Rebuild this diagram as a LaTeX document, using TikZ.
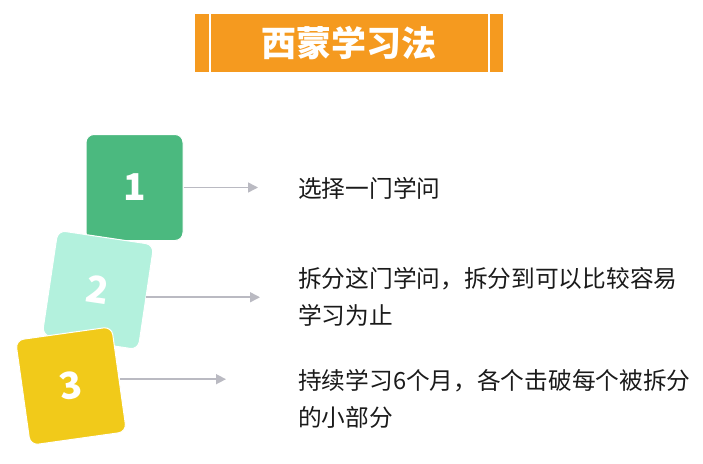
\documentclass[tikz,border=0pt]{standalone}
\usepackage{fontspec}
\setmainfont{Noto Sans CJK SC}
\usetikzlibrary{arrows.meta}
\definecolor{laranja}{HTML}{F59A1F}
\definecolor{verde}{HTML}{4BB97F}
\definecolor{menta}{HTML}{B3F1DD}
\definecolor{amarelo}{HTML}{F1CA1A}
\definecolor{cinza}{HTML}{BABAC2}
\definecolor{preto}{HTML}{1A1A1A}

\begin{document}
\begin{tikzpicture}[x=1pt,y=-1pt,
	cartao/.style={draw=white, line width=1pt, rounded corners=8pt, minimum width=97pt, minimum height=106pt, inner sep=0pt, text=white, font=\fontsize{37}{37}\selectfont\bfseries},
	seta/.style={draw=cinza, line width=1.5pt, -{Triangle[length=10pt,width=10pt]}},
	texto/.style={anchor=west, align=left, inner sep=0pt, text=preto, font=\fontsize{23.7}{37}\selectfont}]
			\useasboundingbox (0,0) rectangle (703,463);
			
			%Titulo
			\node[fill=laranja, minimum width=308pt, minimum height=58pt, inner sep=0pt, text=white, font=\fontsize{35}{35}\selectfont\bfseries] (titulo) at (349,43) {西蒙学习法};
			\draw[white, line width=2pt] ([xshift=15pt]titulo.north west) -- ([xshift=15pt]titulo.south west);
			\draw[white, line width=2pt] ([xshift=-14pt]titulo.north east) -- ([xshift=-14pt]titulo.south east);
			
			%Cartoes
			\node[cartao, fill=verde] (carta1) at (134.5,187.5) {1};
			\node[cartao, fill=menta, rotate=-8.5] (carta2) at (98,290) {2};
			\node[cartao, fill=amarelo, rotate=8] (carta3) at (71,386) {3};
			
			%Setas
			\coordinate (fim1) at (258,188);
			\coordinate (fim2) at (260,296);
			\coordinate (fim3) at (226,378);
			\draw[seta] (carta1.east) -- (carta1.east -| fim1);
			\draw[seta] (carta2.east) -- (carta2.east -| fim2);
			\draw[seta] (carta3.east) -- (carta3.east -| fim3);
			
			%Textos
			\node[texto] (passo1) at (298,188) {选择一门学问};
			\node[texto] (passo2) at (298,296.5) {拆分这门学问，拆分到可以比较容易\\学习为止};
			\node[texto] (passo3) at (298,399) {持续学习6个月，各个击破每个被拆分\\的小部分};
\end{tikzpicture}
\end{document}
